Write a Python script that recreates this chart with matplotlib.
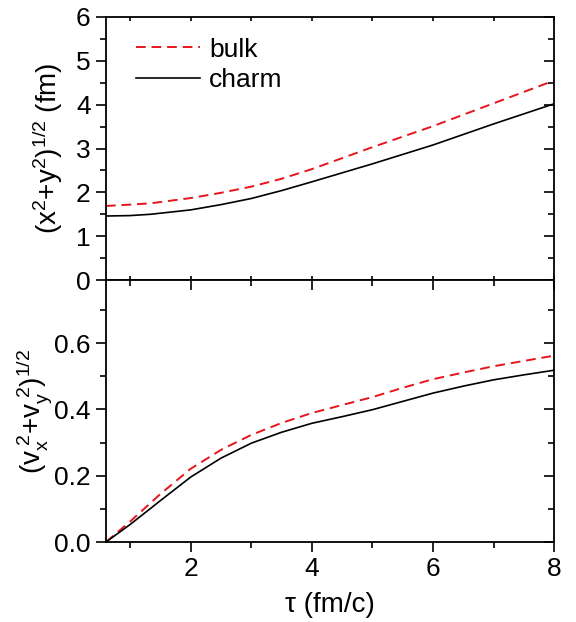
import matplotlib
matplotlib.use("Agg")
import matplotlib.pyplot as plt
import matplotlib.ticker as mticker
from matplotlib.lines import TICKLEFT, TICKDOWN

plt.rcParams.update({
    "font.family": "Liberation Sans",
    "mathtext.fontset": "custom",
    "mathtext.rm": "Liberation Sans",
    "mathtext.it": "Liberation Sans",
    "mathtext.default": "regular",
    "font.size": 18,
})

# data
tau_r = [0.6, 1.0, 1.34, 2.0, 2.5, 3.0, 3.5, 4.0, 5.0, 6.0, 7.0, 8.0]
r_bulk = [1.69, 1.72, 1.75, 1.87, 1.99, 2.13, 2.31, 2.53, 3.03, 3.51, 4.03, 4.55]
r_charm = [1.46, 1.47, 1.50, 1.60, 1.72, 1.86, 2.04, 2.24, 2.65, 3.08, 3.56, 4.02]

tau_v = [0.6, 1.0, 1.5, 2.0, 2.5, 3.0, 3.5, 4.0, 4.5, 5.0, 5.5, 6.0, 6.5, 7.0, 7.5, 8.0]
v_bulk = [0.0, 0.062, 0.145, 0.221, 0.278, 0.323, 0.359, 0.389, 0.413, 0.437,
          0.465, 0.491, 0.511, 0.530, 0.546, 0.562]
v_charm = [0.0, 0.053, 0.125, 0.196, 0.253, 0.298, 0.331, 0.358, 0.378, 0.399,
           0.424, 0.449, 0.470, 0.489, 0.504, 0.518]

RED = "#e8141c"

fig = plt.figure(figsize=(5.76, 6.22), dpi=100)
ax1 = fig.add_axes([0.184, 0.5498, 0.778, 0.4229])
ax2 = fig.add_axes([0.184, 0.1286, 0.778, 0.4212])

ax1.plot(tau_r, r_bulk, color=RED, ls=(0, (5, 3)), lw=1.4, label="bulk")
ax1.plot(tau_r, r_charm, color="black", lw=1.2, label="charm")
ax2.plot(tau_v, v_bulk, color=RED, ls=(0, (5, 3)), lw=1.4)
ax2.plot(tau_v, v_charm, color="black", lw=1.2)

for ax in (ax1, ax2):
    ax.set_xlim(0.6, 8)
    ax.xaxis.set_major_locator(mticker.MultipleLocator(2))
    ax.xaxis.set_minor_locator(mticker.MultipleLocator(1))
    for s in ax.spines.values():
        s.set_linewidth(1.3)
    ax.tick_params(which="both", width=1.2, labelsize=19, pad=4)
    ax.tick_params(which="major", length=7)
    ax.tick_params(which="minor", length=4)
    ax.tick_params(axis="y", which="both", left=True, right=True)
    ax.tick_params(axis="x", which="both", top=True, bottom=True)

ax1.set_ylim(0, 6)
ax1.yaxis.set_major_locator(mticker.MultipleLocator(1))
ax1.yaxis.set_minor_locator(mticker.MultipleLocator(0.5))
ax1.tick_params(axis="x", which="both", direction="in", labelbottom=False)
ax1.tick_params(axis="x", which="both", top=True, length=3)
ax1.set_ylabel("$(x^2$+$y^2)^{1/2}$ (fm)", fontsize=20, labelpad=8)

ax2.set_ylim(0, 0.79)
ax2.yaxis.set_major_locator(mticker.MultipleLocator(0.2))
ax2.yaxis.set_minor_locator(mticker.MultipleLocator(0.1))
ax2.yaxis.set_major_formatter(mticker.FormatStrFormatter("%.1f"))
ax2.tick_params(axis="x", which="both", direction="out")
ax2.set_ylabel("$(v_x^{\\ 2}$+$v_y^{\\ 2})^{1/2}$", fontsize=20, labelpad=0)
ax2.set_xlabel("τ (fm/c)", fontsize=20, labelpad=8)

# right ticks point inwards, left ticks outwards
for ax in (ax1, ax2):
    for t in ax.yaxis.get_major_ticks() + ax.yaxis.get_minor_ticks():
        t.tick2line.set_marker(TICKLEFT)

# inward ticks at the shared boundary
for t in ax2.xaxis.get_major_ticks() + ax2.xaxis.get_minor_ticks():
    t.tick2line.set_marker(TICKDOWN)

ax1.legend(loc="upper left", frameon=False, handlelength=2.4, fontsize=19,
           bbox_to_anchor=(0.015, 1.012), labelspacing=0.25, handletextpad=0.35)

fig.savefig("out.png", dpi=100)
